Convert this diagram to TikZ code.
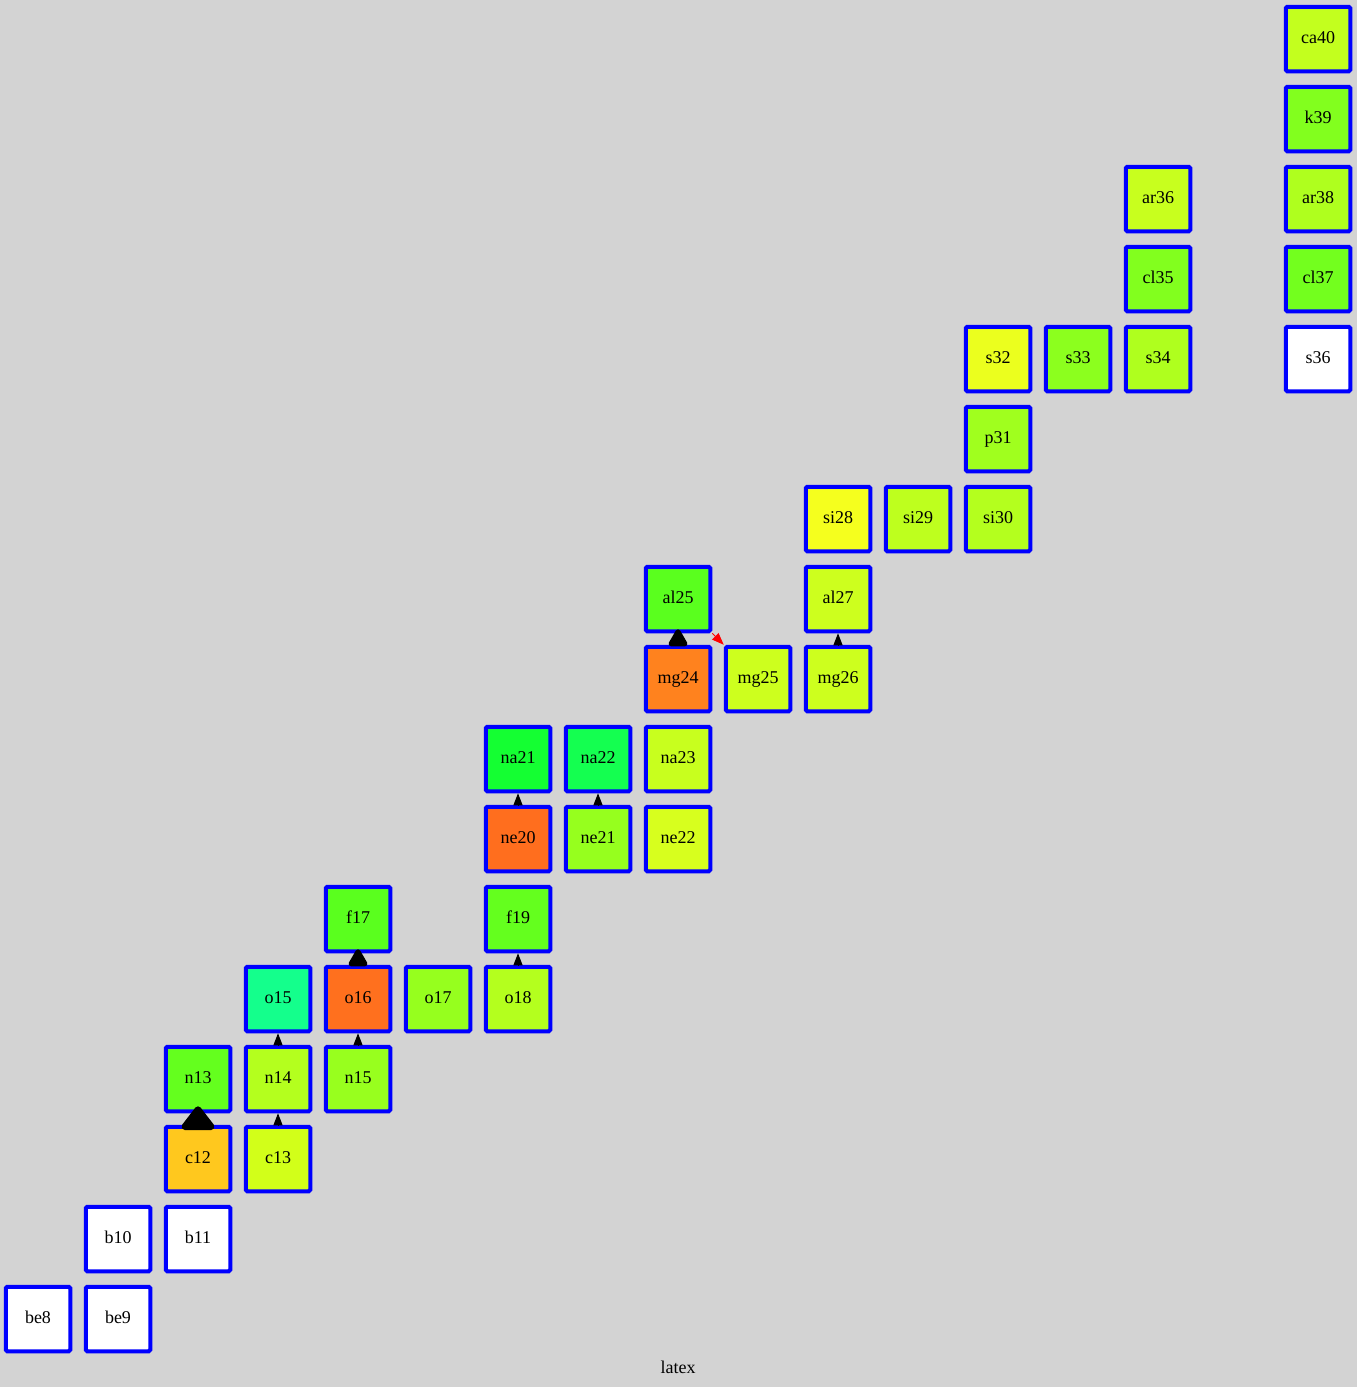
\documentclass[tikz,border=0pt]{standalone}
\usepackage{fontspec}
\setmainfont{Liberation Serif}
\usetikzlibrary{arrows.meta}
\definecolor{bgray}{RGB}{211,211,211}
\definecolor{cc12}{RGB}{255,200,30}
\definecolor{cc13}{RGB}{210,255,25}
\definecolor{cn13}{RGB}{100,255,30}
\definecolor{cn14}{RGB}{180,255,30}
\definecolor{cn15}{RGB}{152,255,30}
\definecolor{co15}{RGB}{20,255,140}
\definecolor{co16}{RGB}{255,112,30}
\definecolor{co17}{RGB}{150,255,30}
\definecolor{co18}{RGB}{180,255,30}
\definecolor{cf17}{RGB}{90,255,30}
\definecolor{cf19}{RGB}{100,255,30}
\definecolor{cne20}{RGB}{255,110,30}
\definecolor{cne21}{RGB}{150,255,30}
\definecolor{cne22}{RGB}{215,255,30}
\definecolor{cna21}{RGB}{20,255,50}
\definecolor{cna22}{RGB}{20,255,80}
\definecolor{cna23}{RGB}{200,255,30}
\definecolor{cmg24}{RGB}{255,130,30}
\definecolor{cmg25}{RGB}{205,255,30}
\definecolor{cmg26}{RGB}{205,255,30}
\definecolor{cal25}{RGB}{90,255,30}
\definecolor{cal27}{RGB}{205,255,30}
\definecolor{csi28}{RGB}{245,255,30}
\definecolor{csi29}{RGB}{190,255,30}
\definecolor{csi30}{RGB}{180,255,30}
\definecolor{cp31}{RGB}{160,255,30}
\definecolor{cs32}{RGB}{235,255,30}
\definecolor{cs33}{RGB}{140,255,30}
\definecolor{cs34}{RGB}{175,255,30}
\definecolor{ccl35}{RGB}{130,255,30}
\definecolor{car36}{RGB}{200,255,30}
\definecolor{ccl37}{RGB}{115,255,30}
\definecolor{car38}{RGB}{175,255,30}
\definecolor{ck39}{RGB}{130,255,30}
\definecolor{cca40}{RGB}{195,255,30}

\begin{document}
\begin{tikzpicture}[x=80pt, y=80pt, font=\fontsize{18}{20}\selectfont,
    nuc/.style={draw=blue, line width=4pt, fill=white, rounded corners=1.5pt, minimum size=64.5pt, inner sep=0pt, text depth=0pt, text height=9pt},
    flow/.style={line width=1pt, -{Triangle[width=9pt, length=12pt]}},
    heavy/.style 2 args={line width=7pt, -{Triangle[round, width=#1, length=#2]}}]

  \path[fill=bgray, use as bounding box] (-0.475,0.4875) rectangle (16.4875,-16.85);

  % bottom row: light nuclei
  \node[nuc] (be8) at (0,-16) {be8};
  \node[nuc] (be9) at (1,-16) {be9};
  \node[nuc] (b10) at (1,-15) {b10};
  \node[nuc] (b11) at (2,-15) {b11};

  \node[nuc, fill=cc12] (c12) at (2,-14) {c12};
  \node[nuc, fill=cc13] (c13) at (3,-14) {c13};
  \node[nuc, fill=cn13] (n13) at (2,-13) {n13};
  \node[nuc, fill=cn14] (n14) at (3,-13) {n14};
  \node[nuc, fill=cn15] (n15) at (4,-13) {n15};
  \node[nuc, fill=co15] (o15) at (3,-12) {o15};
  \node[nuc, fill=co16] (o16) at (4,-12) {o16};
  \node[nuc, fill=co17] (o17) at (5,-12) {o17};
  \node[nuc, fill=co18] (o18) at (6,-12) {o18};
  \node[nuc, fill=cf17] (f17) at (4,-11) {f17};
  \node[nuc, fill=cf19] (f19) at (6,-11) {f19};

  \node[nuc, fill=cne20] (ne20) at (6,-10) {ne20};
  \node[nuc, fill=cne21] (ne21) at (7,-10) {ne21};
  \node[nuc, fill=cne22] (ne22) at (8,-10) {ne22};
  \node[nuc, fill=cna21] (na21) at (6,-9) {na21};
  \node[nuc, fill=cna22] (na22) at (7,-9) {na22};
  \node[nuc, fill=cna23] (na23) at (8,-9) {na23};
  \node[nuc, fill=cmg24] (mg24) at (8,-8) {mg24};
  \node[nuc, fill=cmg25] (mg25) at (9,-8) {mg25};
  \node[nuc, fill=cmg26] (mg26) at (10,-8) {mg26};
  \node[nuc, fill=cal25] (al25) at (8,-7) {al25};
  \node[nuc, fill=cal27] (al27) at (10,-7) {al27};

  \node[nuc, fill=csi28] (si28) at (10,-6) {si28};
  \node[nuc, fill=csi29] (si29) at (11,-6) {si29};
  \node[nuc, fill=csi30] (si30) at (12,-6) {si30};
  \node[nuc, fill=cp31] (p31) at (12,-5) {p31};
  \node[nuc, fill=cs32] (s32) at (12,-4) {s32};
  \node[nuc, fill=cs33] (s33) at (13,-4) {s33};
  \node[nuc, fill=cs34] (s34) at (14,-4) {s34};
  \node[nuc] (s36) at (16,-4) {s36};
  \node[nuc, fill=ccl35] (cl35) at (14,-3) {cl35};
  \node[nuc, fill=ccl37] (cl37) at (16,-3) {cl37};
  \node[nuc, fill=car36] (ar36) at (14,-2) {ar36};
  \node[nuc, fill=car38] (ar38) at (16,-2) {ar38};
  \node[nuc, fill=ck39] (k39) at (16,-1) {k39};
  \node[nuc, fill=cca40] (ca40) at (16,0) {ca40};

  % reaction flows
  \draw[flow] (c13) -- (n14);
  \draw[flow] (n14) -- (o15);
  \draw[flow] (n15) -- (o16);
  \draw[flow] (o18) -- (f19);
  \draw[flow] (ne20) -- (na21);
  \draw[flow] (ne21) -- (na22);
  \draw[flow] (mg26) -- (al27);
  \draw[heavy={38pt}{26pt}, shorten >=-7pt] (c12.north) -- (n13.south);
  \draw[heavy={21pt}{20pt}, shorten >=-4pt] (o16.north) -- (f17.south);
  \draw[heavy={21pt}{20pt}, shorten >=-4pt] (mg24.north) -- (al25.south);
  \draw[red, line width=1pt, -{Triangle[width=9pt, length=12pt]}] (al25.south east) -- (mg25.north west);

  \node (cap) at (8,-16.6) {latex};

\end{tikzpicture}
\end{document}
